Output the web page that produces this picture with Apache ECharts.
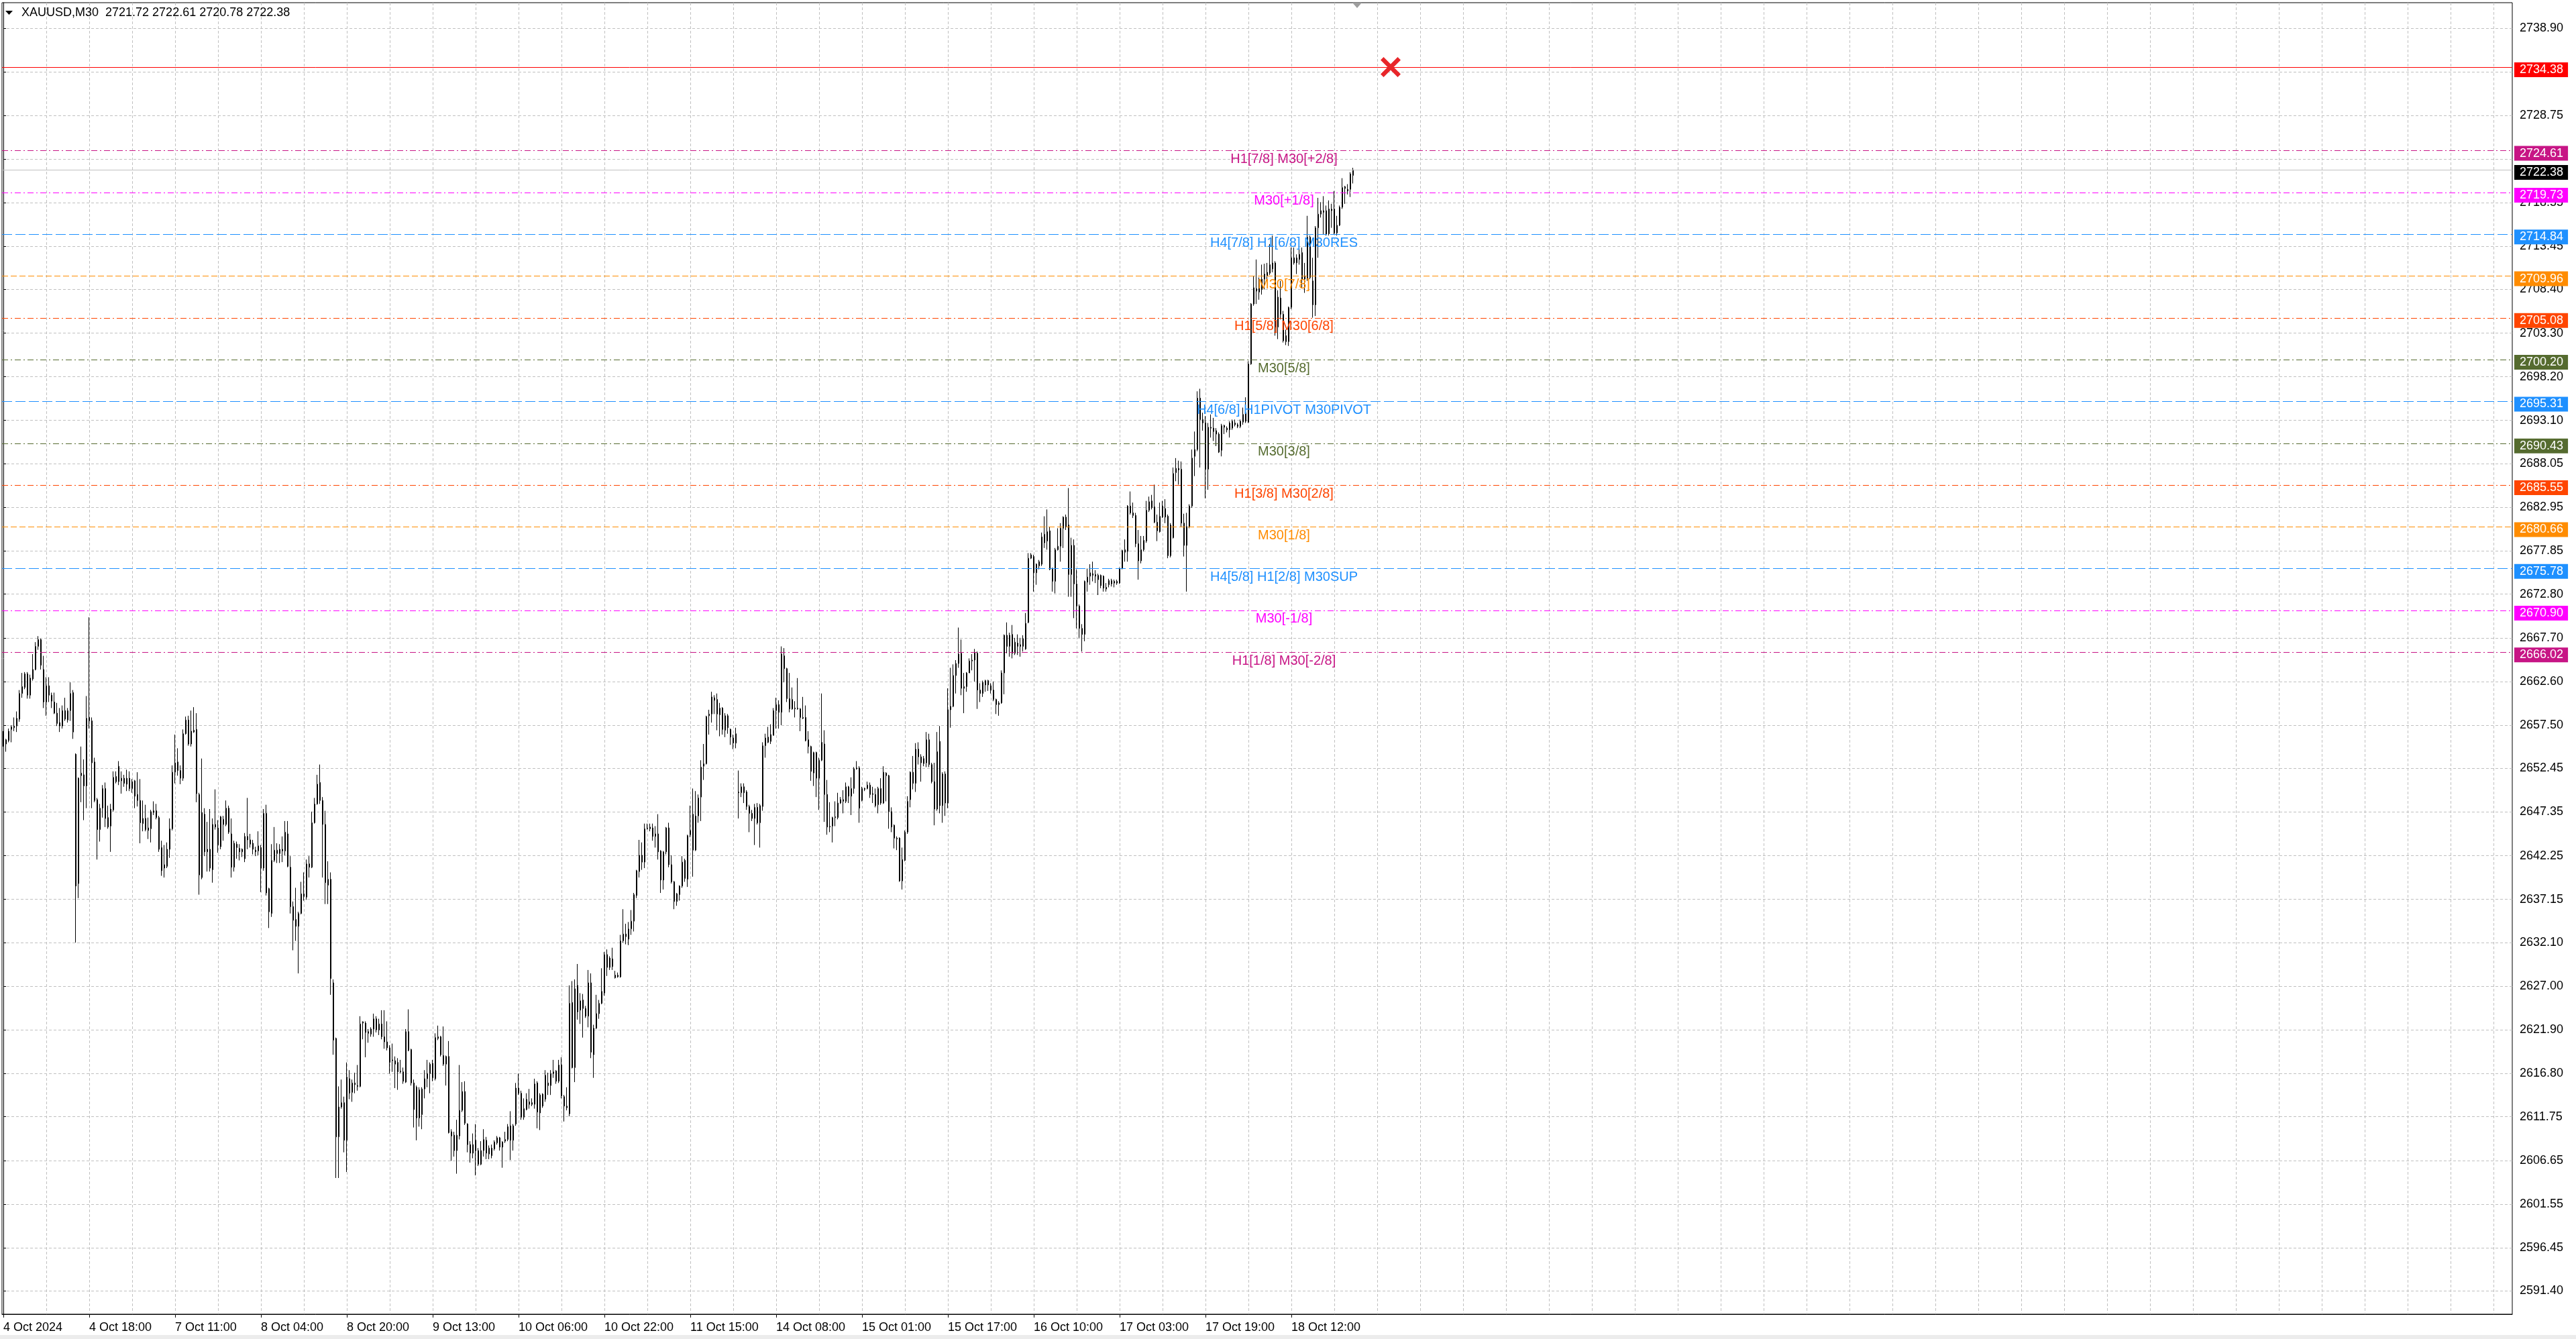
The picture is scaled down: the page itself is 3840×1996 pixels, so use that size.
<!DOCTYPE html>
<html>
<head>
<meta charset="utf-8">
<title>XAUUSD,M30</title>
<script src="https://cdn.jsdelivr.net/npm/echarts@6/dist/echarts.min.js"></script>
<style>
  html, body { margin: 0; padding: 0; background: #ffffff; }
  #chart { width: 3840px; height: 1996px; }
</style>
</head>
<body>
<div id="chart"></div>
<script>
/*
 * XAUUSD M30 candles with Murrey math levels (MT4 look)
 * x = bar number (one M30 bar = 4px), y = price
 */

// ---- chart text ----
var titleSymbol = 'XAUUSD,M30';

// ---- time axis: bar number of each label and its text ----
var xTickBars = [0, 32, 64, 96, 128, 160, 192, 224, 256, 288, 320, 352, 384, 416, 448, 480];
var xTickLabels = ['4 Oct 2024', '4 Oct 18:00', '7 Oct 11:00', '8 Oct 04:00', '8 Oct 20:00', '9 Oct 13:00',
  '10 Oct 06:00', '10 Oct 22:00', '11 Oct 15:00', '14 Oct 08:00', '15 Oct 01:00', '15 Oct 17:00',
  '16 Oct 10:00', '17 Oct 03:00', '17 Oct 19:00', '18 Oct 12:00'];

// ---- price axis grid values (terminal scale) ----
var yGridValues = [2591.40, 2596.45, 2601.55, 2606.65, 2611.75, 2616.80, 2621.90, 2627.00, 2632.10, 2637.15,
  2642.25, 2647.35, 2652.45, 2657.50, 2662.60, 2667.70, 2672.80, 2677.85, 2682.95, 2688.05,
  2693.10, 2698.20, 2703.30, 2708.40, 2713.45, 2718.55, 2723.65, 2728.75, 2733.80, 2738.90];
// these two sit under the price boxes and are not printed
var yHiddenLabels = [2723.65, 2733.80];

// ---- murrey levels ----
var levelValues = [2724.61, 2719.73, 2714.84, 2709.96, 2705.08, 2700.20, 2695.31, 2690.43, 2685.55, 2680.66, 2675.78, 2670.90, 2666.02];
var levelNames = ['H1[7/8] M30[+2/8]', 'M30[+1/8]', 'H4[7/8] H1[6/8] M30RES', 'M30[7/8]', 'H1[5/8] M30[6/8]',
  'M30[5/8]', 'H4[6/8] H1PIVOT M30PIVOT', 'M30[3/8]', 'H1[3/8] M30[2/8]', 'M30[1/8]',
  'H4[5/8] H1[2/8] M30SUP', 'M30[-1/8]', 'H1[1/8] M30[-2/8]'];
var redLevel = 2734.38;   // red horizontal line
var redMarkBar = 517;     // red cross on it

// ---- OHLC, bar 0 .. 503 ----
var opens = [
  2656.6, 2655.3, 2655.7, 2657.0, 2657.2, 2657.4, 2658.2, 2661.2, 2661.9, 2663.5,
  2661.0, 2662.9, 2664.0, 2666.7, 2667.5, 2664.0, 2660.2, 2662.1, 2661.0, 2660.2,
  2658.9, 2657.8, 2657.4, 2659.2, 2658.1, 2659.2, 2661.3, 2654.1, 2639.0, 2651.6,
  2651.7, 2650.4, 2658.4, 2658.0, 2653.2, 2648.8, 2645.3, 2647.8, 2650.1, 2646.7,
  2645.7, 2647.6, 2651.5, 2650.9, 2651.0, 2651.3, 2650.6, 2651.3, 2650.1, 2651.0,
  2649.4, 2648.7, 2646.0, 2646.6, 2645.2, 2645.4, 2647.5, 2647.5, 2646.7, 2643.2,
  2640.8, 2641.0, 2643.0, 2645.4, 2652.0, 2653.2, 2652.2, 2651.3, 2656.5, 2658.1,
  2655.3, 2656.9, 2657.0, 2649.4, 2639.7, 2647.1, 2642.7, 2643.0, 2640.6, 2645.9,
  2645.5, 2643.3, 2645.9, 2645.9, 2647.8, 2644.8, 2640.9, 2643.6, 2643.1, 2642.7,
  2641.9, 2644.5, 2644.1, 2643.7, 2642.9, 2642.8, 2643.2, 2640.8, 2647.2, 2638.4,
  2635.5, 2641.7, 2642.5, 2642.5, 2643.0, 2642.8, 2644.8, 2640.9, 2636.3, 2634.8,
  2634.0, 2635.5, 2637.8, 2637.4, 2641.3, 2640.9, 2646.1, 2648.3, 2650.8, 2648.7,
  2645.9, 2638.8, 2639.5, 2627.4, 2620.9, 2609.4, 2612.9, 2613.4, 2609.0, 2616.2,
  2614.6, 2615.5, 2615.4, 2615.3, 2622.7, 2622.7, 2621.7, 2621.4, 2622.0, 2623.2,
  2621.9, 2622.6, 2621.1, 2620.5, 2619.8, 2618.3, 2618.3, 2618.1, 2617.0, 2617.0,
  2615.8, 2621.7, 2619.6, 2615.7, 2615.2, 2611.6, 2612.0, 2615.0, 2616.2, 2616.8,
  2618.0, 2616.2, 2620.9, 2621.1, 2618.9, 2617.9, 2618.8, 2610.0, 2609.6, 2607.8,
  2609.5, 2612.5, 2614.7, 2610.9, 2608.5, 2608.5, 2609.0, 2607.8, 2606.2, 2607.8,
  2609.0, 2607.4, 2607.2, 2608.0, 2608.7, 2609.3, 2608.2, 2608.9, 2609.1, 2610.7,
  2609.0, 2610.9, 2615.1, 2614.5, 2611.7, 2612.6, 2613.5, 2613.4, 2613.2, 2615.7,
  2612.2, 2614.4, 2613.8, 2615.7, 2615.4, 2616.8, 2617.1, 2615.9, 2617.8, 2614.1,
  2613.0, 2612.1, 2625.1, 2617.5, 2627.1, 2624.2, 2624.4, 2624.4, 2623.5, 2627.4,
  2619.0, 2622.1, 2623.8, 2625.0, 2626.2, 2630.7, 2629.2, 2630.2, 2628.3, 2628.1,
  2628.1, 2632.3, 2633.1, 2632.5, 2633.7, 2634.6, 2637.6, 2640.4, 2642.3, 2641.5,
  2645.4, 2645.4, 2645.5, 2644.5, 2644.8, 2642.8, 2639.4, 2642.7, 2645.5, 2641.2,
  2639.2, 2636.9, 2637.7, 2638.7, 2641.7, 2639.5, 2644.7, 2647.1, 2642.9, 2646.9,
  2649.1, 2652.7, 2653.0, 2658.6, 2658.8, 2660.7, 2660.5, 2658.7, 2659.5, 2656.9,
  2658.6, 2657.0, 2656.0, 2655.4, 2649.7, 2649.6, 2650.3, 2649.7, 2648.0, 2647.2,
  2646.6, 2647.9, 2646.1, 2648.0, 2655.1, 2656.1, 2655.6, 2656.3, 2659.2, 2659.9,
  2659.0, 2665.6, 2664.1, 2660.6, 2660.5, 2659.5, 2659.4, 2659.4, 2658.4, 2658.4,
  2655.8, 2655.0, 2651.9, 2654.3, 2651.3, 2653.4, 2655.3, 2649.4, 2645.6, 2645.7,
  2646.7, 2646.7, 2648.4, 2648.6, 2648.6, 2650.3, 2649.2, 2650.1, 2652.5, 2652.5,
  2648.7, 2650.1, 2650.1, 2650.5, 2649.5, 2649.4, 2648.2, 2650.1, 2648.4, 2651.9,
  2651.6, 2647.4, 2645.8, 2644.3, 2644.3, 2639.3, 2641.7, 2645.0, 2648.8, 2652.0,
  2650.7, 2654.7, 2653.8, 2653.0, 2653.1, 2655.8, 2652.9, 2650.9, 2647.7, 2655.6,
  2648.1, 2651.8, 2648.4, 2659.3, 2659.7, 2663.3, 2664.7, 2665.9, 2661.8, 2662.0,
  2663.6, 2665.1, 2665.1, 2665.9, 2661.6, 2661.2, 2662.2, 2662.7, 2662.1, 2661.6,
  2660.5, 2659.9, 2660.1, 2663.6, 2668.0, 2666.7, 2668.1, 2665.9, 2667.1, 2666.9,
  2666.7, 2666.4, 2669.5, 2677.0, 2677.2, 2675.3, 2676.1, 2676.3, 2678.8, 2679.0,
  2680.2, 2675.8, 2674.3, 2678.0, 2678.4, 2680.5, 2681.8, 2680.9, 2675.1, 2678.5,
  2674.0, 2671.4, 2668.8, 2668.1, 2674.2, 2674.9, 2675.0, 2674.9, 2675.0, 2675.0,
  2674.9, 2673.6, 2673.9, 2674.0, 2674.3, 2674.1, 2674.1, 2675.8, 2677.7, 2677.8,
  2683.1, 2682.3, 2682.0, 2678.7, 2676.7, 2678.0, 2679.0, 2682.6, 2683.7, 2683.0,
  2681.2, 2680.1, 2681.8, 2682.8, 2681.9, 2677.3, 2679.4, 2687.0, 2687.5, 2687.4,
  2681.1, 2678.5, 2680.7, 2683.1, 2688.9, 2689.7, 2695.7, 2693.2, 2692.8, 2687.4,
  2692.3, 2692.2, 2691.9, 2691.5, 2689.6, 2692.5, 2692.2, 2692.0, 2692.2, 2692.8,
  2692.6, 2693.0, 2692.9, 2694.0, 2692.9, 2699.7, 2706.7, 2708.2, 2708.6, 2708.4,
  2709.6, 2710.0, 2710.3, 2710.8, 2711.5, 2704.0, 2707.4, 2705.5, 2703.0, 2702.3,
  2706.3, 2712.1, 2711.5, 2711.9, 2712.7, 2709.6, 2709.6, 2714.5, 2709.4, 2706.6,
  2715.6, 2717.2, 2717.4, 2717.6, 2717.8, 2717.6, 2717.8, 2715.0, 2715.9, 2718.0,
  2720.4, 2720.1, 2720.1, 2721.72
];
var highs = [
  2656.8, 2655.9, 2657.1, 2657.5, 2658.4, 2659.1, 2661.6, 2663.6, 2663.7, 2663.7,
  2663.4, 2665.8, 2667.2, 2667.9, 2667.6, 2665.6, 2663.1, 2663.1, 2661.3, 2661.3,
  2660.1, 2659.5, 2659.8, 2660.7, 2659.5, 2662.5, 2661.6, 2654.2, 2651.4, 2655.0,
  2653.5, 2660.9, 2670.1, 2658.4, 2653.7, 2649.0, 2648.3, 2650.5, 2650.8, 2648.1,
  2648.3, 2652.1, 2652.1, 2653.3, 2652.1, 2651.7, 2652.3, 2652.1, 2651.2, 2651.1,
  2652.0, 2651.2, 2648.7, 2648.2, 2646.7, 2647.6, 2648.6, 2648.3, 2646.9, 2644.0,
  2643.5, 2643.8, 2646.6, 2652.8, 2656.4, 2654.8, 2652.8, 2657.0, 2658.5, 2658.6,
  2659.2, 2659.6, 2658.9, 2649.6, 2653.6, 2647.8, 2646.2, 2647.7, 2646.6, 2650.0,
  2646.4, 2646.9, 2646.9, 2648.7, 2648.1, 2646.6, 2644.0, 2643.9, 2643.6, 2643.1,
  2644.9, 2649.0, 2644.8, 2644.1, 2643.3, 2645.1, 2643.5, 2647.7, 2648.2, 2638.5,
  2643.6, 2645.6, 2643.7, 2643.6, 2644.5, 2646.3, 2646.3, 2642.2, 2636.9, 2638.5,
  2635.7, 2639.2, 2640.3, 2641.8, 2642.2, 2647.4, 2649.0, 2651.7, 2652.9, 2649.1,
  2647.5, 2641.6, 2640.3, 2627.8, 2621.0, 2615.3, 2616.1, 2614.1, 2618.1, 2617.2,
  2616.1, 2616.9, 2617.8, 2623.5, 2622.9, 2622.9, 2622.0, 2622.2, 2623.8, 2623.5,
  2623.2, 2624.2, 2624.2, 2622.9, 2620.1, 2620.3, 2618.8, 2618.6, 2618.4, 2617.5,
  2622.0, 2624.3, 2619.7, 2616.1, 2615.4, 2615.2, 2615.2, 2617.2, 2618.4, 2618.1,
  2618.4, 2621.5, 2622.4, 2621.2, 2622.3, 2618.9, 2620.6, 2610.3, 2610.0, 2611.4,
  2617.8, 2615.8, 2615.9, 2611.0, 2608.9, 2609.8, 2610.9, 2608.1, 2608.9, 2610.3,
  2609.4, 2608.4, 2608.5, 2609.0, 2609.5, 2609.4, 2608.9, 2610.0, 2610.9, 2612.4,
  2610.9, 2615.7, 2616.8, 2614.8, 2613.9, 2614.5, 2615.0, 2613.9, 2616.2, 2615.9,
  2614.5, 2614.5, 2617.2, 2616.9, 2617.2, 2618.4, 2617.2, 2618.4, 2618.7, 2614.3,
  2615.2, 2627.1, 2627.6, 2627.8, 2629.6, 2626.2, 2626.1, 2624.7, 2628.9, 2628.5,
  2622.5, 2626.0, 2625.4, 2629.1, 2631.0, 2631.3, 2630.5, 2631.5, 2628.8, 2628.6,
  2633.0, 2636.0, 2634.3, 2634.5, 2635.9, 2637.9, 2640.6, 2644.1, 2643.8, 2646.0,
  2646.0, 2646.0, 2646.0, 2645.7, 2647.1, 2642.9, 2642.8, 2645.6, 2646.1, 2642.3,
  2639.3, 2637.9, 2638.8, 2642.2, 2641.9, 2644.7, 2648.1, 2650.1, 2649.8, 2649.4,
  2653.4, 2655.3, 2658.6, 2659.3, 2661.4, 2661.0, 2661.2, 2660.1, 2659.6, 2658.9,
  2658.8, 2657.1, 2656.4, 2657.2, 2652.2, 2650.7, 2650.7, 2649.9, 2648.2, 2647.6,
  2648.3, 2648.4, 2648.3, 2655.5, 2656.5, 2657.3, 2657.6, 2659.5, 2660.7, 2660.4,
  2666.7, 2666.5, 2664.2, 2663.6, 2661.9, 2660.3, 2663.0, 2659.5, 2660.8, 2659.8,
  2656.8, 2655.1, 2654.4, 2654.4, 2653.7, 2661.2, 2656.9, 2651.1, 2648.5, 2646.8,
  2648.6, 2649.6, 2649.1, 2649.9, 2650.8, 2650.4, 2651.4, 2652.6, 2653.3, 2652.7,
  2650.3, 2650.2, 2650.9, 2650.8, 2650.3, 2650.1, 2650.3, 2651.3, 2652.7, 2652.0,
  2651.7, 2647.9, 2645.9, 2644.5, 2644.4, 2643.2, 2645.2, 2649.2, 2652.1, 2653.9,
  2655.4, 2655.5, 2654.1, 2653.9, 2656.7, 2656.5, 2653.1, 2653.1, 2656.7, 2657.4,
  2652.0, 2652.1, 2661.8, 2664.2, 2664.6, 2665.1, 2668.9, 2667.5, 2663.6, 2663.7,
  2665.3, 2665.8, 2666.4, 2666.1, 2662.4, 2662.7, 2662.8, 2662.8, 2662.4, 2662.6,
  2660.6, 2660.3, 2663.9, 2668.1, 2669.5, 2668.3, 2669.2, 2667.7, 2668.1, 2667.7,
  2668.0, 2670.6, 2677.6, 2677.6, 2677.4, 2676.4, 2676.8, 2680.0, 2681.9, 2682.7,
  2680.7, 2675.9, 2678.2, 2680.5, 2681.1, 2681.9, 2682.1, 2685.2, 2679.4, 2679.2,
  2675.7, 2671.6, 2669.3, 2674.4, 2675.8, 2676.3, 2676.6, 2675.6, 2675.2, 2675.1,
  2675.0, 2674.1, 2674.6, 2674.6, 2674.5, 2674.5, 2675.9, 2678.0, 2679.2, 2683.2,
  2684.8, 2683.5, 2682.3, 2680.3, 2679.6, 2679.6, 2683.7, 2684.2, 2684.4, 2685.6,
  2682.1, 2683.5, 2683.7, 2683.9, 2682.1, 2681.1, 2687.6, 2688.7, 2688.4, 2688.3,
  2682.2, 2682.3, 2683.3, 2689.7, 2691.8, 2696.5, 2696.8, 2694.0, 2693.6, 2692.8,
  2693.8, 2693.4, 2692.2, 2691.7, 2692.7, 2692.6, 2692.4, 2693.0, 2693.2, 2693.2,
  2692.8, 2693.2, 2694.6, 2695.8, 2700.0, 2706.8, 2710.0, 2711.9, 2709.8, 2711.3,
  2711.4, 2711.5, 2713.7, 2714.7, 2711.7, 2708.3, 2709.4, 2705.9, 2703.7, 2706.4,
  2713.3, 2713.3, 2712.5, 2713.3, 2713.3, 2711.5, 2717.0, 2714.7, 2712.1, 2715.8,
  2719.1, 2718.6, 2719.3, 2718.2, 2718.8, 2718.4, 2719.9, 2717.0, 2718.2, 2721.4,
  2720.5, 2720.7, 2722.1, 2722.61
];
var lows = [
  2655.0, 2654.4, 2655.5, 2655.5, 2656.8, 2656.7, 2657.9, 2660.7, 2661.7, 2660.6,
  2660.6, 2662.7, 2663.9, 2666.3, 2664.0, 2659.5, 2658.6, 2660.2, 2659.5, 2658.8,
  2657.4, 2656.7, 2657.1, 2658.0, 2657.8, 2658.0, 2655.9, 2632.1, 2637.3, 2648.5,
  2646.4, 2647.8, 2657.1, 2647.8, 2648.5, 2641.8, 2643.9, 2646.7, 2645.6, 2645.4,
  2642.7, 2647.4, 2650.7, 2650.5, 2649.5, 2650.3, 2649.8, 2649.8, 2649.6, 2647.8,
  2648.0, 2643.7, 2645.1, 2645.1, 2644.2, 2643.8, 2647.0, 2646.5, 2642.7, 2639.9,
  2639.7, 2640.8, 2642.0, 2645.2, 2650.7, 2651.6, 2650.6, 2651.0, 2656.4, 2655.1,
  2655.0, 2656.6, 2648.5, 2637.7, 2639.5, 2642.2, 2640.4, 2640.4, 2639.1, 2645.3,
  2642.6, 2643.0, 2644.0, 2645.7, 2644.8, 2639.7, 2640.4, 2641.9, 2641.7, 2642.1,
  2641.5, 2643.0, 2643.2, 2642.4, 2642.2, 2642.3, 2638.0, 2640.5, 2637.6, 2633.8,
  2635.1, 2641.5, 2641.4, 2641.4, 2641.5, 2642.3, 2640.9, 2635.5, 2631.2, 2632.3,
  2628.5, 2635.4, 2637.0, 2637.1, 2639.7, 2640.8, 2646.0, 2648.2, 2648.3, 2639.7,
  2636.6, 2636.6, 2626.0, 2619.0, 2604.6, 2604.6, 2612.7, 2607.6, 2605.3, 2613.8,
  2613.5, 2614.5, 2614.8, 2615.2, 2620.8, 2618.7, 2620.4, 2621.1, 2621.1, 2621.6,
  2621.3, 2620.8, 2619.7, 2619.5, 2616.8, 2617.0, 2615.1, 2614.9, 2616.8, 2615.6,
  2615.7, 2619.4, 2615.4, 2610.5, 2609.0, 2610.6, 2610.3, 2613.9, 2615.2, 2614.5,
  2615.9, 2616.0, 2620.7, 2618.8, 2617.7, 2615.4, 2609.8, 2606.6, 2607.1, 2605.1,
  2609.1, 2612.3, 2610.8, 2607.6, 2606.4, 2606.9, 2604.9, 2606.0, 2606.1, 2607.1,
  2606.8, 2606.8, 2606.9, 2607.8, 2608.5, 2607.8, 2605.8, 2608.7, 2608.9, 2606.7,
  2607.8, 2610.7, 2614.3, 2611.4, 2611.4, 2612.5, 2612.7, 2613.0, 2612.7, 2610.4,
  2610.2, 2612.8, 2613.5, 2614.3, 2614.3, 2616.3, 2615.6, 2615.7, 2613.9, 2611.2,
  2612.5, 2611.8, 2617.4, 2615.8, 2623.1, 2622.6, 2621.0, 2623.3, 2622.2, 2618.6,
  2616.3, 2622.0, 2623.2, 2624.9, 2625.9, 2628.2, 2628.9, 2628.9, 2627.9, 2628.0,
  2628.0, 2632.1, 2631.9, 2631.8, 2633.0, 2633.4, 2637.3, 2639.7, 2640.6, 2640.8,
  2645.3, 2645.1, 2644.0, 2643.2, 2641.8, 2637.9, 2638.3, 2642.4, 2640.9, 2639.0,
  2636.0, 2636.4, 2637.0, 2638.5, 2639.2, 2638.6, 2644.4, 2639.8, 2642.8, 2646.1,
  2646.3, 2651.1, 2652.9, 2656.4, 2657.8, 2658.8, 2656.9, 2656.2, 2656.4, 2656.1,
  2656.5, 2655.2, 2654.7, 2654.8, 2646.6, 2649.1, 2648.4, 2647.6, 2645.0, 2646.3,
  2643.5, 2645.9, 2643.2, 2647.5, 2653.7, 2655.4, 2655.3, 2656.3, 2657.1, 2657.1,
  2657.5, 2662.5, 2660.2, 2659.0, 2659.3, 2658.4, 2659.3, 2656.8, 2658.2, 2655.6,
  2654.2, 2651.0, 2650.4, 2649.1, 2647.6, 2653.3, 2646.2, 2644.7, 2645.0, 2643.8,
  2645.7, 2646.5, 2648.3, 2647.2, 2648.4, 2648.4, 2647.0, 2649.5, 2652.3, 2646.1,
  2648.6, 2649.8, 2650.0, 2649.0, 2648.4, 2647.9, 2647.2, 2648.2, 2648.3, 2648.6,
  2645.4, 2645.0, 2643.1, 2642.9, 2639.2, 2638.3, 2641.6, 2644.8, 2647.9, 2650.0,
  2649.7, 2652.9, 2650.9, 2652.7, 2652.6, 2652.6, 2650.7, 2645.8, 2647.5, 2647.2,
  2646.1, 2646.9, 2647.8, 2657.2, 2659.6, 2661.2, 2664.2, 2661.0, 2658.9, 2661.4,
  2663.6, 2663.9, 2662.6, 2659.4, 2660.2, 2660.8, 2661.4, 2661.5, 2661.2, 2660.3,
  2658.8, 2658.6, 2660.0, 2661.1, 2665.9, 2665.5, 2665.3, 2665.7, 2665.7, 2665.5,
  2666.1, 2666.3, 2669.4, 2676.9, 2673.1, 2673.9, 2675.7, 2676.1, 2678.2, 2678.0,
  2675.6, 2673.1, 2672.9, 2677.9, 2676.6, 2678.2, 2680.3, 2672.5, 2672.5, 2670.0,
  2668.8, 2667.7, 2666.1, 2667.3, 2673.1, 2673.9, 2674.3, 2674.1, 2672.7, 2673.5,
  2673.1, 2673.1, 2673.6, 2673.7, 2673.6, 2673.9, 2674.0, 2675.7, 2676.6, 2676.6,
  2682.1, 2681.7, 2678.3, 2674.5, 2676.4, 2677.8, 2678.8, 2682.4, 2682.7, 2681.1,
  2679.0, 2680.0, 2681.7, 2681.1, 2677.0, 2677.1, 2679.3, 2686.0, 2685.6, 2680.7,
  2677.2, 2673.1, 2680.5, 2682.9, 2686.6, 2689.5, 2687.6, 2691.9, 2684.0, 2685.0,
  2691.1, 2690.7, 2690.1, 2689.3, 2688.9, 2691.5, 2691.7, 2691.1, 2692.0, 2692.4,
  2692.2, 2692.2, 2692.6, 2692.8, 2692.8, 2699.6, 2706.5, 2706.7, 2707.2, 2707.8,
  2708.4, 2709.4, 2710.1, 2710.4, 2703.0, 2702.6, 2704.9, 2702.2, 2701.9, 2701.8,
  2706.1, 2711.3, 2710.2, 2711.3, 2708.6, 2708.0, 2709.4, 2709.6, 2705.1, 2705.3,
  2712.1, 2716.8, 2714.8, 2714.7, 2714.7, 2715.6, 2714.8, 2714.7, 2715.8, 2717.8,
  2718.4, 2719.5, 2719.2, 2720.78
];
var closes = [
  2655.3, 2655.8, 2656.8, 2657.3, 2657.4, 2658.3, 2661.2, 2662.0, 2663.5, 2661.0,
  2663.0, 2664.0, 2666.7, 2667.5, 2664.5, 2660.2, 2662.1, 2661.0, 2660.3, 2658.9,
  2657.7, 2657.4, 2659.2, 2658.2, 2659.2, 2661.2, 2656.7, 2638.7, 2651.3, 2651.9,
  2650.4, 2658.3, 2658.0, 2653.1, 2648.7, 2645.3, 2647.8, 2650.1, 2646.6, 2645.6,
  2647.7, 2651.4, 2650.9, 2652.7, 2651.3, 2650.7, 2651.3, 2650.1, 2650.9, 2649.2,
  2648.7, 2646.1, 2646.6, 2645.3, 2645.5, 2647.4, 2647.3, 2646.7, 2643.0, 2640.5,
  2641.2, 2643.0, 2645.4, 2652.0, 2653.1, 2652.2, 2651.3, 2656.5, 2658.1, 2655.3,
  2656.8, 2656.7, 2649.5, 2640.0, 2647.3, 2642.7, 2643.0, 2640.8, 2645.9, 2645.6,
  2643.5, 2646.8, 2646.5, 2647.8, 2645.0, 2640.9, 2643.7, 2643.2, 2642.7, 2643.0,
  2644.5, 2644.1, 2643.6, 2643.0, 2642.7, 2643.4, 2640.8, 2647.2, 2637.9, 2635.7,
  2641.7, 2642.9, 2642.9, 2643.0, 2642.8, 2645.0, 2641.0, 2636.3, 2634.7, 2634.0,
  2635.5, 2637.8, 2637.5, 2641.3, 2640.9, 2646.1, 2648.3, 2650.6, 2648.7, 2645.9,
  2639.1, 2639.5, 2627.9, 2620.7, 2609.4, 2612.9, 2613.4, 2609.0, 2616.4, 2614.5,
  2615.7, 2615.7, 2615.3, 2622.6, 2622.85, 2621.6, 2621.5, 2622.0, 2623.2, 2621.9,
  2622.6, 2621.1, 2620.5, 2619.8, 2618.1, 2618.4, 2617.9, 2617.0, 2617.1, 2615.9,
  2621.7, 2619.5, 2615.7, 2612.6, 2611.6, 2614.9, 2615.0, 2616.2, 2616.8, 2617.9,
  2616.3, 2621.0, 2621.1, 2619.0, 2617.9, 2618.8, 2609.9, 2609.5, 2607.8, 2609.6,
  2612.5, 2614.7, 2611.0, 2608.5, 2607.5, 2607.5, 2607.8, 2606.2, 2607.8, 2609.1,
  2607.5, 2608.1, 2608.1, 2608.8, 2609.3, 2608.2, 2608.8, 2609.1, 2610.6, 2609.0,
  2610.7, 2615.1, 2614.5, 2611.7, 2612.7, 2613.8, 2613.2, 2613.2, 2615.6, 2612.3,
  2614.3, 2613.0, 2616.6, 2615.4, 2616.8, 2617.0, 2615.9, 2617.8, 2614.2, 2613.0,
  2612.8, 2625.0, 2617.5, 2626.7, 2624.0, 2625.3, 2625.4, 2623.5, 2627.4, 2619.3,
  2622.1, 2623.8, 2625.0, 2626.4, 2630.7, 2629.2, 2630.3, 2629.3, 2628.0, 2628.3,
  2632.3, 2633.1, 2632.8, 2633.7, 2634.6, 2637.7, 2640.5, 2642.3, 2641.5, 2645.4,
  2645.5, 2645.6, 2644.5, 2644.8, 2642.7, 2639.4, 2642.7, 2645.5, 2641.2, 2639.2,
  2636.9, 2637.8, 2638.7, 2641.5, 2639.6, 2644.6, 2645.2, 2642.9, 2646.9, 2649.0,
  2652.6, 2653.0, 2658.5, 2658.8, 2660.8, 2660.4, 2658.8, 2659.5, 2657.0, 2658.6,
  2657.2, 2656.1, 2655.4, 2656.5, 2649.6, 2650.3, 2649.6, 2648.0, 2647.2, 2646.6,
  2647.9, 2646.1, 2648.1, 2655.1, 2656.0, 2655.5, 2656.4, 2659.2, 2659.9, 2659.0,
  2665.8, 2664.1, 2660.6, 2659.4, 2659.4, 2659.4, 2659.5, 2658.4, 2658.3, 2655.7,
  2655.0, 2652.1, 2654.3, 2651.3, 2653.4, 2655.5, 2649.4, 2645.6, 2645.7, 2646.7,
  2646.8, 2648.4, 2648.8, 2648.8, 2650.3, 2649.2, 2650.1, 2652.4, 2652.4, 2647.8,
  2650.1, 2650.0, 2650.5, 2649.4, 2649.4, 2648.1, 2650.1, 2648.4, 2652.0, 2651.6,
  2647.4, 2645.6, 2644.3, 2644.2, 2639.3, 2641.8, 2645.0, 2648.6, 2652.0, 2650.7,
  2654.7, 2653.8, 2653.1, 2653.6, 2655.8, 2652.9, 2650.9, 2647.7, 2654.4, 2648.1,
  2651.8, 2648.4, 2659.3, 2659.7, 2663.3, 2664.7, 2665.8, 2661.8, 2662.0, 2663.6,
  2665.0, 2665.0, 2666.0, 2661.6, 2661.2, 2662.5, 2662.7, 2662.2, 2661.6, 2660.5,
  2659.9, 2660.1, 2663.6, 2668.0, 2666.7, 2668.0, 2665.9, 2667.2, 2666.7, 2666.7,
  2667.6, 2669.4, 2677.0, 2677.4, 2675.3, 2676.3, 2676.6, 2679.5, 2679.8, 2680.1,
  2675.7, 2674.3, 2678.0, 2678.4, 2680.5, 2681.8, 2680.7, 2675.1, 2678.5, 2674.0,
  2671.4, 2668.8, 2668.1, 2674.3, 2674.8, 2675.3, 2675.2, 2675.1, 2674.5, 2673.8,
  2673.5, 2673.4, 2674.4, 2674.4, 2674.1, 2674.3, 2675.8, 2677.9, 2678.0, 2683.1,
  2682.3, 2682.0, 2678.7, 2676.7, 2678.0, 2679.1, 2682.6, 2683.6, 2682.9, 2681.2,
  2680.2, 2681.9, 2683.1, 2681.8, 2677.3, 2680.9, 2686.9, 2687.5, 2687.3, 2681.1,
  2678.5, 2680.7, 2683.1, 2688.7, 2689.7, 2695.7, 2693.2, 2692.8, 2687.4, 2692.3,
  2692.2, 2691.8, 2691.5, 2689.4, 2692.5, 2692.3, 2692.0, 2692.8, 2693.0, 2692.6,
  2692.4, 2692.4, 2693.8, 2693.0, 2699.7, 2706.7, 2708.6, 2708.5, 2708.1, 2709.6,
  2710.2, 2710.4, 2711.3, 2711.5, 2704.0, 2707.5, 2705.5, 2702.4, 2702.3, 2706.3,
  2712.1, 2711.5, 2712.1, 2712.5, 2709.6, 2710.0, 2714.5, 2709.8, 2706.6, 2715.6,
  2717.2, 2717.6, 2717.6, 2714.8, 2714.9, 2717.8, 2715.0, 2715.9, 2718.0, 2720.3,
  2720.2, 2719.9, 2721.9, 2722.38
];

// ---- layout / style (MT4 terminal look) ----
var FONT = '"Liberation Sans", Arial, sans-serif';
var X_MIN = -0.5, X_MAX = 935;          // 4px per bar, the right side stays empty (chart shift)
var Y_MIN = 2588.69, Y_MAX = 2741.90;
var GRID_COLOR = '#c0c0c0';
var DASH = { dash: [9, 4], dashdot: [9, 4, 2, 4], longdash: [15, 5] };
var levelColors = ['#C71585', '#FF00FF', '#1E90FF', '#FF8C00', '#FF4500', '#556B2F', '#1E90FF',
  '#556B2F', '#FF4500', '#FF8C00', '#1E90FF', '#FF00FF', '#C71585'];
var levelDash = ['dashdot', 'dashdot', 'longdash', 'dash', 'dashdot', 'dashdot', 'longdash',
  'dashdot', 'dashdot', 'dash', 'longdash', 'dashdot', 'dashdot'];

var last = closes.length - 1;
var bidValue = closes[last];

// candles: [bar, open, close, low, high]
var candles = [];
for (var i = 0; i < closes.length; i++) {
  candles.push([i, opens[i], closes[i], lows[i], highs[i]]);
}

// vertical grid every 16 bars
var xGridBars = [];
for (var g = 16; g < X_MAX; g += 16) xGridBars.push(g);

var yLabelValues = yGridValues.filter(function (v) { return yHiddenLabels.indexOf(v) < 0; });

// coloured price box on the right axis (terminal draws it a little below the line)
function priceBox(value, color) {
  return {
    show: true,
    position: 'end',
    distance: 3,
    offset: [0, 4],
    formatter: value.toFixed(2),
    color: '#ffffff',
    backgroundColor: color,
    fontFamily: FONT,
    fontSize: 18,
    lineHeight: 18,
    padding: [2, 7, 2, 8]
  };
}

// mark lines: red line, bid line, murrey levels (+ their names in the middle)
var lines = [];
lines.push({ yAxis: redLevel, lineStyle: { color: '#FF0000', type: 'solid', width: 1 }, label: priceBox(redLevel, '#FF0000') });
for (var k = 0; k < levelValues.length; k++) {
  lines.push({
    yAxis: levelValues[k],
    lineStyle: { color: levelColors[k], type: DASH[levelDash[k]], width: 1 },
    label: priceBox(levelValues[k], levelColors[k])
  });
  lines.push({
    yAxis: levelValues[k],
    lineStyle: { color: 'transparent', width: 0 },
    label: {
      show: true,
      position: 'insideMiddleBottom',
      distance: 3,
      offset: [40, 0],
      formatter: levelNames[k],
      color: levelColors[k],
      opacity: 1,
      fontFamily: FONT,
      fontSize: 20
    }
  });
}
lines.push({ yAxis: bidValue, lineStyle: { color: '#C0C0C0', type: 'solid', width: 1 }, label: priceBox(bidValue, '#000000') });

var crossPath = 'path://M0,3 L3,0 L10,7 L17,0 L20,3 L13,10 L20,17 L17,20 L10,13 L3,20 L0,17 L7,10 Z';

var chart = echarts.init(document.getElementById('chart'), null, { renderer: 'canvas' });

var option = {
  animation: false,
  backgroundColor: '#ffffff',
  title: {
    text: titleSymbol + '  ' + [opens[last], highs[last], lows[last], closes[last]].map(function (v) { return v.toFixed(2); }).join(' '),
    left: 32,
    top: 10,
    padding: 0,
    textStyle: { fontFamily: FONT, fontSize: 18, fontWeight: 'normal', color: '#000000' }
  },
  graphic: [
    // small menu triangle before the title
    { type: 'polygon', shape: { points: [[8, 16], [19, 16], [13.5, 22]] }, style: { fill: '#000000' }, z: 10 },
    // light bottom strip of the terminal window
    { type: 'rect', shape: { x: 0, y: 1990, width: 3840, height: 6 }, style: { fill: '#ececec' }, z: -1 }
  ],
  grid: {
    left: 3, right: 95, top: 4, bottom: 37,
    show: true, borderColor: '#000000', borderWidth: 1, backgroundColor: '#ffffff'
  },
  xAxis: [{
    type: 'value',
    min: X_MIN,
    max: X_MAX,
    axisLine: { show: true, lineStyle: { color: '#000000', width: 1 } },
    axisTick: { show: true, length: 5, customValues: xTickBars, lineStyle: { color: '#000000' } },
    axisLabel: {
      customValues: xTickBars,
      align: 'left',
      margin: 11,
      color: '#000000',
      fontFamily: FONT,
      fontSize: 18,
      formatter: function (v) { return xTickLabels[xTickBars.indexOf(v)]; }
    },
    splitLine: { show: false }
  }, {
    // only carries the vertical grid
    type: 'value',
    min: X_MIN,
    max: X_MAX,
    position: 'bottom',
    axisLine: { show: false },
    axisTick: { show: false, customValues: xGridBars },
    axisLabel: { show: false },
    splitLine: { show: true, lineStyle: { color: GRID_COLOR, type: [4, 3], width: 1 } }
  }],
  yAxis: {
    type: 'value',
    position: 'right',
    min: Y_MIN,
    max: Y_MAX,
    axisLine: { show: true, lineStyle: { color: '#000000', width: 1 } },
    axisTick: { show: true, length: 4, customValues: yGridValues, lineStyle: { color: '#000000' } },
    axisLabel: {
      customValues: yLabelValues,
      margin: 11,
      color: '#000000',
      fontFamily: FONT,
      fontSize: 18,
      formatter: function (v) { return v.toFixed(2); }
    },
    splitLine: { show: true, lineStyle: { color: GRID_COLOR, type: [4, 3], width: 1 } }
  },
  series: [{
    type: 'candlestick',
    xAxisIndex: 0,
    yAxisIndex: 0,
    data: candles,
    encode: { x: 0, y: [1, 2, 3, 4] },
    barWidth: 2,
    silent: true,
    itemStyle: {
      color: '#ffffff',
      color0: '#000000',
      borderColor: '#000000',
      borderColor0: '#000000',
      borderColorDoji: '#000000',
      borderWidth: 1
    },
    markLine: {
      silent: true,
      symbol: ['none', 'none'],
      animation: false,
      data: lines
    },
    markPoint: {
      silent: true,
      animation: false,
      label: { show: false },
      data: [
        { coord: [redMarkBar, redLevel], symbol: crossPath, symbolSize: 30, itemStyle: { color: '#E8262A' } },
        // chart shift marker at the top
        { coord: [last + 1.5, Y_MAX], symbol: 'triangle', symbolRotate: 180, symbolSize: [14, 8], symbolOffset: [0, 4], itemStyle: { color: '#9e9e9e' } }
      ]
    }
  }]
};

chart.setOption(option);
</script>
</body>
</html>
